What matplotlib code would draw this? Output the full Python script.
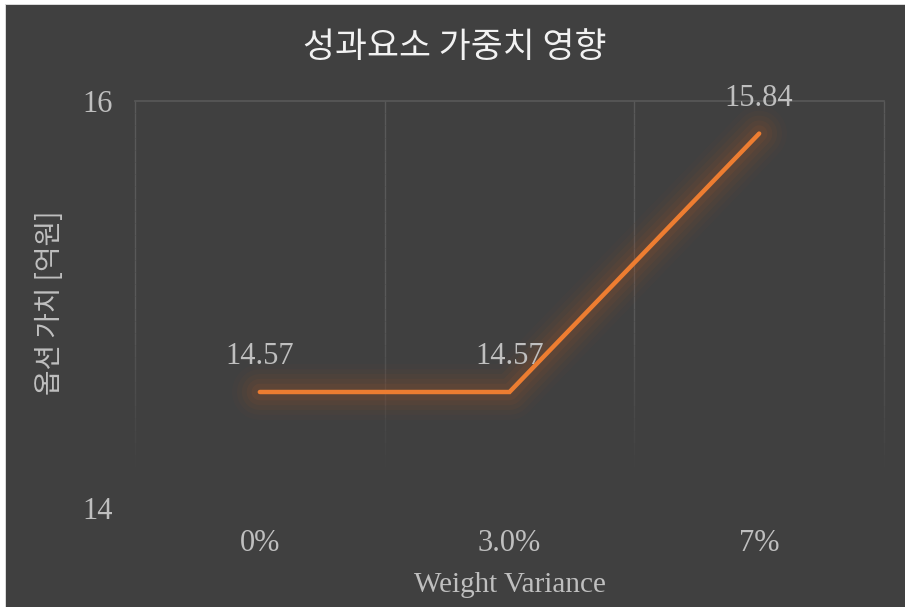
import numpy as np
import matplotlib
matplotlib.use('Agg')
import matplotlib.pyplot as plt
from matplotlib.patches import Rectangle

plt.rcParams['font.family'] = ['Liberation Serif', 'Noto Sans CJK KR', 'DejaVu Sans']

# Data
categories = ['0%', '3.0%', '7%']
values = [14.57, 14.57, 15.84]
y_ticks = [14, 16]
title = '성과요소 가중치 영향'
x_label = 'Weight Variance'
y_label = '옵션 가치 [억원]'

bg = '#404040'
text_col = '#BFBFBF'
grid_col = '#595959'
line_col = '#ED7D31'

fig = plt.figure(figsize=(9.05, 6.07), dpi=100, facecolor='white')
# dark chart area with thin white margin at top/left
fig.patches.append(Rectangle((6 / 905, 0), 1, 1 - 5 / 607, transform=fig.transFigure,
                             facecolor=bg, edgecolor='none', zorder=-2))
fig.patches.append(Rectangle((5 / 905, 0), 1 / 905, 1 - 4 / 607, transform=fig.transFigure,
                             facecolor='#D9D9D9', edgecolor='none', zorder=-2))
fig.patches.append(Rectangle((5 / 905, 1 - 5 / 607), 1, 1 / 607, transform=fig.transFigure,
                             facecolor='#D9D9D9', edgecolor='none', zorder=-2))

ax = fig.add_axes([135 / 905, 1 - 508 / 607, (884 - 135) / 905, (508 - 101) / 607])
ax.set_zorder(1)
ax.set_facecolor('none')
x = np.arange(len(categories))
ax.set_xlim(-0.5, len(categories) - 0.5)
ax.set_ylim(14, 16)

# top border line and fading vertical grid lines
ax.plot([-0.5, len(categories) - 0.5], [16, 16], color=grid_col, lw=1.2, zorder=1,
        clip_on=False)
for gx in np.arange(-0.5, len(categories), 1.0):
    n = 30
    ys = np.linspace(16, 14.2, n + 1)
    for i in range(n):
        a = 1.0 if i < n * 0.55 else max(0.0, 1 - (i - n * 0.55) / (n * 0.45))
        ax.plot([gx, gx], [ys[i], ys[i + 1]], color=grid_col, lw=1.0, alpha=a,
                solid_capstyle='butt', zorder=1, clip_on=False)

# soft glow around the line
glow_col = '#A0552A'
for w, a in [(40, 0.04), (33, 0.05), (26, 0.07), (19, 0.09), (12, 0.12)]:
    ax.plot(x, values, color=glow_col, lw=w, alpha=a, solid_capstyle='round',
            solid_joinstyle='round', zorder=2)
ax.plot(x, values, color=line_col, lw=3.2, solid_capstyle='round',
        solid_joinstyle='miter', zorder=3)

for xi, v in zip(x, values):
    ax.annotate(f'{v:.2f}', (xi, v), xytext=(0, 15), textcoords='offset points',
                ha='center', va='bottom', color=text_col, fontsize=22, zorder=4)

ax.set_xticks(x)
ax.set_xticklabels(categories)
ax.set_yticks(y_ticks)
ax.tick_params(axis='both', length=0, colors=text_col, labelsize=22)
ax.tick_params(axis='x', pad=15)
ax.tick_params(axis='y', pad=16)
for s in ax.spines.values():
    s.set_visible(False)

ax.set_xlabel(x_label, color=text_col, fontsize=21, labelpad=10)
fig.text(50 / 905, 1 - 303 / 607, y_label, rotation=90, ha='center', va='center',
         color=text_col, fontsize=20, family=['Noto Sans CJK KR', 'DejaVu Sans'])
fig.text(455 / 905, 1 - 48 / 607, title, ha='center', va='center', color='#F2F2F2',
         fontsize=25, family=['Noto Sans CJK KR', 'DejaVu Sans'])

fig.savefig('out.png', dpi=100, facecolor='white')
